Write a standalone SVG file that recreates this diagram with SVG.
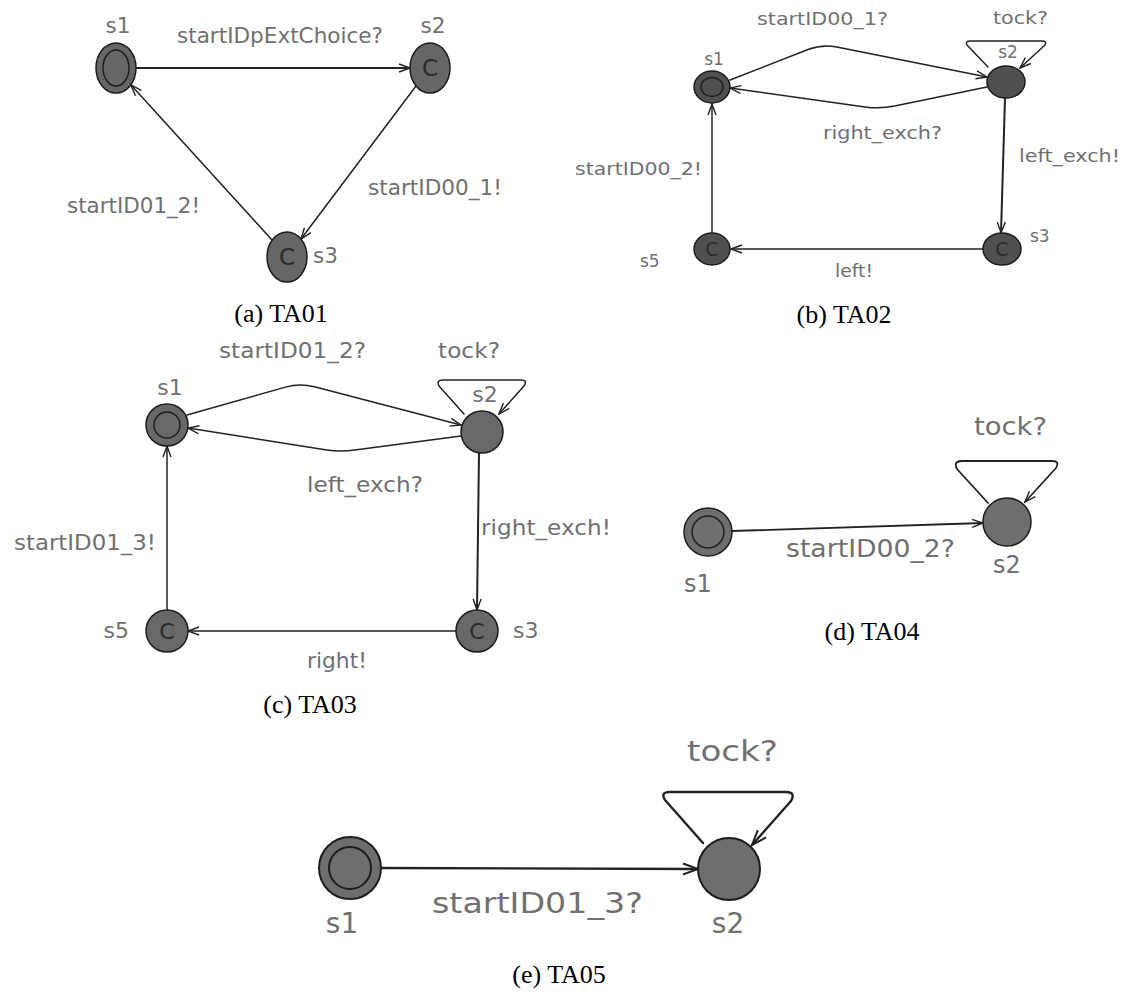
<svg xmlns="http://www.w3.org/2000/svg" width="1127" height="992" viewBox="0 0 1127 992">
<defs>
<style>
.bg{fill:#ffffff}
.edge{fill:none;stroke:#222;stroke-width:1.5;stroke-linejoin:round;stroke-linecap:round}
.lbl{font-family:"DejaVu Sans","Liberation Sans",sans-serif;fill:#707070}
.cap{font-family:"Liberation Serif","DejaVu Serif",serif;fill:#000;font-size:26px;text-anchor:middle}
.node{stroke:#1c1c1c;stroke-width:1.5}
.ring{fill:none;stroke:#1c1c1c;stroke-width:1.4}
.cm{font-family:"DejaVu Sans","Liberation Sans",sans-serif;fill:#2a2a2a;text-anchor:middle}
</style>
<marker id="ah" markerUnits="userSpaceOnUse" markerWidth="14" markerHeight="12" refX="12" refY="5" orient="auto" overflow="visible">
<path d="M1,1 L12,5 L1,9" fill="none" stroke="#222" stroke-width="1.4"/>
</marker>
<marker id="ahL" markerUnits="userSpaceOnUse" markerWidth="18" markerHeight="14" refX="16" refY="6.5" orient="auto" overflow="visible">
<path d="M1,1 L16,6.5 L1,12" fill="none" stroke="#222" stroke-width="2"/>
</marker>
</defs>
<rect class="bg" x="0" y="0" width="1127" height="992"/>

<!-- Panel (a) TA01 -->
<g id="a-edges">
<line class="edge" x1="136" y1="68" x2="410" y2="68" marker-end="url(#ah)" style="stroke-width:1.8"/>
<line class="edge" x1="416" y1="86" x2="301" y2="239" marker-end="url(#ah)"/>
<line class="edge" x1="272" y1="240" x2="131" y2="85" marker-end="url(#ah)"/>
</g>
<g id="a-s1"><ellipse class="node" cx="116" cy="68" rx="20" ry="25" fill="#666"/><ellipse class="ring" cx="116" cy="68" rx="13" ry="18"/></g>
<g id="a-s2"><ellipse class="node" cx="430" cy="68" rx="20" ry="25" fill="#666"/><text class="cm" x="430" y="76" font-size="23">C</text></g>
<g id="a-s3"><ellipse class="node" cx="287" cy="257" rx="20" ry="25" fill="#666"/><text class="cm" x="287" y="265" font-size="23">C</text></g>
<g id="a-labels" class="lbl" font-size="21.5">
<text x="118" y="33" text-anchor="middle">s1</text>
<text x="433" y="33" text-anchor="middle">s2</text>
<text x="313" y="263">s3</text>
<text x="177" y="43" textLength="206" lengthAdjust="spacingAndGlyphs">startIDpExtChoice?</text>
<text x="368" y="195" textLength="134" lengthAdjust="spacingAndGlyphs">startID00_1!</text>
<text x="67" y="213" textLength="133" lengthAdjust="spacingAndGlyphs">startID01_2!</text>
</g>
<text class="cap" x="281" y="322">(a) TA01</text>

<!-- Panel (b) TA02 -->
<g id="b-edges">
<path class="edge" d="M730,80 L808,49.5 Q822,44 836.7,46.9 L987,77" marker-end="url(#ah)"/>
<path class="edge" d="M987,87 L894.7,106 Q880,109 865,106.9 L730,88" marker-end="url(#ah)"/>
<line class="edge" x1="1005" y1="98" x2="1001" y2="233" marker-end="url(#ah)" style="stroke-width:2"/>
<line class="edge" x1="983" y1="249" x2="731" y2="249" marker-end="url(#ah)"/>
<line class="edge" x1="712" y1="233" x2="712" y2="104" marker-end="url(#ah)"/>
<path class="edge" d="M988,67 L967,45 Q965,41 970,41 L1042,41 Q1047,41 1045,45 L1020,68" marker-end="url(#ah)"/>
</g>
<g id="b-s1"><ellipse class="node" cx="712" cy="87" rx="18" ry="16" fill="#505050"/><ellipse class="ring" cx="712" cy="87" rx="11" ry="9.5"/></g>
<g id="b-s2"><ellipse class="node" cx="1006" cy="82" rx="19" ry="16" fill="#505050"/></g>
<g id="b-s3"><ellipse class="node" cx="1002" cy="249" rx="19" ry="16" fill="#505050"/><text class="cm" x="1002" y="256" font-size="19">C</text></g>
<g id="b-s5"><ellipse class="node" cx="712" cy="249" rx="18" ry="16" fill="#505050"/><text class="cm" x="712" y="256" font-size="19">C</text></g>
<g id="b-labels" class="lbl" font-size="17">
<text x="714" y="65" text-anchor="middle">s1</text>
<text x="1008" y="58" text-anchor="middle">s2</text>
<text x="1030" y="242">s3</text>
<text x="640" y="267">s5</text>
<text x="757" y="25" textLength="131" lengthAdjust="spacingAndGlyphs">startID00_1?</text>
<text x="993" y="24" textLength="55" lengthAdjust="spacingAndGlyphs">tock?</text>
<text x="823" y="139" textLength="119" lengthAdjust="spacingAndGlyphs">right_exch?</text>
<text x="575" y="175" textLength="127" lengthAdjust="spacingAndGlyphs">startID00_2!</text>
<text x="1019" y="162" textLength="101" lengthAdjust="spacingAndGlyphs">left_exch!</text>
<text x="835" y="277" textLength="38" lengthAdjust="spacingAndGlyphs">left!</text>
</g>
<text class="cap" x="844" y="323">(b) TA02</text>

<!-- Panel (c) TA03 -->
<g id="c-edges">
<path class="edge" d="M187,415 L285.6,387.1 Q300,383 314.5,386.8 L461,425" marker-end="url(#ah)"/>
<path class="edge" d="M461,436 L354.9,450 Q340,452 325.2,449.7 L188,428" marker-end="url(#ah)"/>
<line class="edge" x1="479" y1="453" x2="477" y2="610" marker-end="url(#ah)" style="stroke-width:2"/>
<line class="edge" x1="456" y1="631" x2="188" y2="631" marker-end="url(#ah)"/>
<line class="edge" x1="167" y1="610" x2="167" y2="446" marker-end="url(#ah)"/>
<path class="edge" d="M464,414 L439,386 Q436,380 443,380 L521,380 Q528,380 524,386 L499,414" marker-end="url(#ah)"/>
</g>
<g id="c-s1"><circle class="node" cx="167" cy="425" r="21" fill="#686868"/><circle class="ring" cx="167" cy="425" r="13"/></g>
<g id="c-s2"><circle class="node" cx="482" cy="432" r="21" fill="#686868"/></g>
<g id="c-s3"><circle class="node" cx="477" cy="631" r="21" fill="#686868"/><text class="cm" x="477" y="639" font-size="22">C</text></g>
<g id="c-s5"><circle class="node" cx="167" cy="631" r="21" fill="#686868"/><text class="cm" x="167" y="639" font-size="22">C</text></g>
<g id="c-labels" class="lbl" font-size="22">
<text x="170" y="395" text-anchor="middle">s1</text>
<text x="485" y="402" text-anchor="middle">s2</text>
<text x="513" y="638">s3</text>
<text x="129" y="638" text-anchor="end">s5</text>
<text x="219" y="358" textLength="147" lengthAdjust="spacingAndGlyphs">startID01_2?</text>
<text x="438" y="358" textLength="62" lengthAdjust="spacingAndGlyphs">tock?</text>
<text x="307" y="492" textLength="116" lengthAdjust="spacingAndGlyphs">left_exch?</text>
<text x="481" y="535" textLength="130" lengthAdjust="spacingAndGlyphs">right_exch!</text>
<text x="14" y="550" textLength="142" lengthAdjust="spacingAndGlyphs">startID01_3!</text>
<text x="307" y="668" textLength="60" lengthAdjust="spacingAndGlyphs">right!</text>
</g>
<text class="cap" x="310" y="713">(c) TA03</text>

<!-- Panel (d) TA04 -->
<g id="d-edges">
<line class="edge" x1="732" y1="531" x2="983" y2="523" marker-end="url(#ah)" style="stroke-width:1.8"/>
<path class="edge" d="M988,503 L957,469 Q953,461 962,461 L1052,461 Q1060,461 1056,468 L1025,502" marker-end="url(#ah)" style="stroke-width:1.8"/>
</g>
<g id="d-s1"><circle class="node" cx="708" cy="532" r="24" fill="#6e6e6e"/><circle class="ring" cx="708" cy="532" r="16"/></g>
<g id="d-s2"><circle class="node" cx="1007" cy="522" r="24" fill="#6e6e6e"/></g>
<g id="d-labels" class="lbl" font-size="24">
<text x="698" y="592" text-anchor="middle">s1</text>
<text x="1007" y="573" text-anchor="middle">s2</text>
<text x="974" y="435" textLength="73" lengthAdjust="spacingAndGlyphs">tock?</text>
<text x="786" y="557" textLength="169" lengthAdjust="spacingAndGlyphs">startID00_2?</text>
</g>
<text class="cap" x="872" y="640">(d) TA04</text>

<!-- Panel (e) TA05 -->
<g id="e-edges">
<line class="edge" x1="381" y1="868" x2="698" y2="869" marker-end="url(#ahL)" style="stroke-width:2.4"/>
<path class="edge" d="M703,843 L665,800 Q660,792 670,792 L786,792 Q796,792 791,801 L752,845" marker-end="url(#ahL)" style="stroke-width:2.4"/>
</g>
<g id="e-s1"><circle class="node" cx="350" cy="868" r="31" fill="#6e6e6e" style="stroke-width:2"/><circle class="ring" cx="350" cy="868" r="21" style="stroke-width:2"/></g>
<g id="e-s2"><circle class="node" cx="729" cy="869" r="31" fill="#6e6e6e" style="stroke-width:2"/></g>
<g id="e-labels" class="lbl" font-size="28">
<text x="342" y="933" text-anchor="middle">s1</text>
<text x="728" y="933" text-anchor="middle">s2</text>
<text x="687" y="761" textLength="91" lengthAdjust="spacingAndGlyphs">tock?</text>
<text x="432" y="913" textLength="211" lengthAdjust="spacingAndGlyphs">startID01_3?</text>
</g>
<text class="cap" x="559" y="983">(e) TA05</text>
</svg>
